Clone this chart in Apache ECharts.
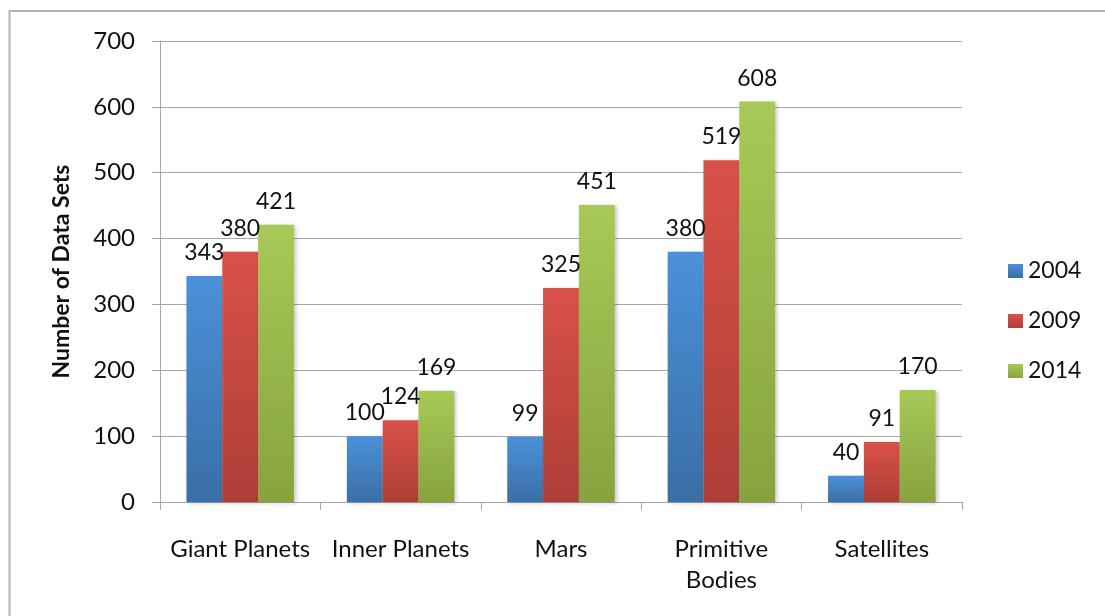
<!DOCTYPE html>
<html>
<head>
<meta charset="utf-8">
<script src="https://cdn.jsdelivr.net/npm/echarts@6/dist/echarts.min.js"></script>
<style>
  html, body { margin: 0; padding: 0; background: #fff; }
  #chart { width: 1105px; height: 616px; }
</style>
</head>
<body>
<div id="chart"></div>
<script>
// Planetary data sets archived per target group
const categories = ['Giant Planets', 'Inner Planets', 'Mars', 'Primitive\nBodies', 'Satellites'];
const years = ['2004', '2009', '2014'];
const values2004 = [343, 100, 99, 380, 40];
const values2009 = [380, 124, 325, 519, 91];
const values2014 = [421, 169, 451, 608, 170];
const yTicks = [0, 100, 200, 300, 400, 500, 600, 700];

const FONT = 'Lato, "Open Sans", sans-serif';

function grad(top, bottom) {
  return new echarts.graphic.LinearGradient(0, 0, 0, 1, [
    { offset: 0, color: top },
    { offset: 1, color: bottom }
  ]);
}

const palette = [
  grad('#4b91da', '#3a6ea6'),
  grad('#d9514a', '#ad3e36'),
  grad('#a8c957', '#87a33f')
];

function barSeries(name, data, color) {
  return {
    name: name,
    type: 'bar',
    data: data,
    barGap: '0%',
    barCategoryGap: '33%',
    itemStyle: {
      color: color,
      shadowColor: 'rgba(0,0,0,0.22)',
      shadowBlur: 4,
      shadowOffsetX: 2,
      shadowOffsetY: 1
    },
    label: {
      show: true,
      position: 'top',
      distance: 12,
      color: '#111',
      fontFamily: FONT,
      fontSize: 23
    }
  };
}

const chart = echarts.init(document.getElementById('chart'), null, { renderer: 'canvas' });
chart.setOption({
  backgroundColor: '#fff',
  animation: false,
  grid: { left: 160, right: 143, top: 41, bottom: 114, containLabel: false },
  legend: {
    orient: 'vertical',
    left: 1003,
    top: 254,
    itemWidth: 15,
    itemHeight: 14,
    itemGap: 26,
    icon: 'rect',
    itemStyle: { borderWidth: 0 },
    data: years,
    textStyle: { fontFamily: FONT, fontSize: 23, color: '#111', lineHeight: 24 }
  },
  xAxis: {
    type: 'category',
    data: categories,
    axisLine: { lineStyle: { color: '#a6a6a6', width: 1 } },
    axisTick: { show: true, length: 8, lineStyle: { color: '#a6a6a6' } },
    axisLabel: {
      interval: 0,
      margin: 32,
      color: '#111',
      fontFamily: FONT,
      fontSize: 24,
      lineHeight: 31
    }
  },
  yAxis: {
    type: 'value',
    min: yTicks[0],
    max: yTicks[yTicks.length - 1],
    interval: 100,
    name: 'Number of Data Sets',
    nameLocation: 'middle',
    nameGap: 87,
    nameRotate: 90,
    nameTextStyle: { fontFamily: FONT, fontSize: 23, fontWeight: 'bold', color: '#111' },
    axisLine: { show: true, lineStyle: { color: '#a6a6a6', width: 1 } },
    axisTick: { show: true, length: 8, lineStyle: { color: '#a6a6a6' } },
    splitLine: { show: true, lineStyle: { color: '#a6a6a6', width: 1 } },
    axisLabel: {
      margin: 25,
      color: '#111',
      fontFamily: FONT,
      fontSize: 24,
      formatter: function (v) { return yTicks.indexOf(v) >= 0 ? String(v) : ''; }
    }
  },
  series: [
    barSeries(years[0], values2004, palette[0]),
    barSeries(years[1], values2009, palette[1]),
    barSeries(years[2], values2014, palette[2])
  ],
  graphic: [{
    type: 'rect',
    silent: true,
    z: 100,
    shape: { x: 9.5, y: 11, width: 1200, height: 700 },
    style: { fill: 'none', stroke: '#b3b3b3', lineWidth: 2 }
  }]
});
</script>
</body>
</html>
